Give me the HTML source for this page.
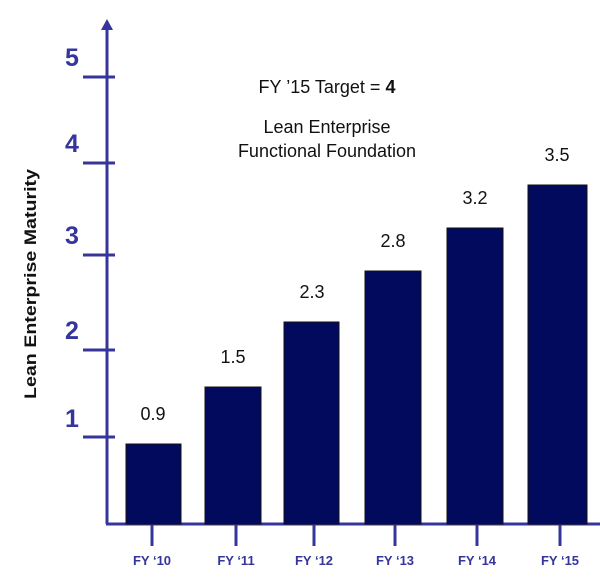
<!DOCTYPE html>
<html><head><style>
body{margin:0;background:#fff;}
</style></head><body>
<svg width="600" height="578" xmlns="http://www.w3.org/2000/svg" style="display:block">
<g stroke="#35359b" stroke-width="3" fill="none">
<line x1="107" y1="26" x2="107" y2="524"/>
<line x1="106" y1="524" x2="600" y2="524"/>
<line x1="83" y1="77" x2="115" y2="77"/>
<line x1="83" y1="163" x2="115" y2="163"/>
<line x1="83" y1="255" x2="115" y2="255"/>
<line x1="83" y1="350" x2="115" y2="350"/>
<line x1="83" y1="437" x2="115" y2="437"/>
<line x1="152" y1="524" x2="152" y2="546"/>
<line x1="236" y1="524" x2="236" y2="546"/>
<line x1="314" y1="524" x2="314" y2="546"/>
<line x1="395" y1="524" x2="395" y2="546"/>
<line x1="477" y1="524" x2="477" y2="546"/>
<line x1="560" y1="524" x2="560" y2="546"/>
</g>
<polygon points="107,19 101,30 113,30" fill="#35359b"/>
<g font-family="Liberation Sans, sans-serif" font-weight="bold" font-size="25" fill="#35359b" text-anchor="middle">
<text x="72" y="66">5</text>
<text x="72" y="152">4</text>
<text x="72" y="244">3</text>
<text x="72" y="339">2</text>
<text x="72" y="427">1</text>
</g>
<g fill="#020a5e" stroke="#111" stroke-width="1">
<rect x="126" y="444" width="55" height="80"/>
<rect x="205" y="387" width="56" height="137"/>
<rect x="284" y="322" width="55" height="202"/>
<rect x="365" y="271" width="56" height="253"/>
<rect x="447" y="228" width="56" height="296"/>
<rect x="528" y="185" width="59" height="339"/>
</g>
<g font-family="Liberation Sans, sans-serif" font-size="18" fill="#111" text-anchor="middle">
<text x="153" y="420">0.9</text>
<text x="233" y="363">1.5</text>
<text x="312" y="298">2.3</text>
<text x="393" y="247">2.8</text>
<text x="475" y="204">3.2</text>
<text x="557" y="161">3.5</text>
<text x="327" y="93">FY ’15 Target = <tspan font-weight="bold">4</tspan></text>
<text x="327" y="133">Lean Enterprise</text>
<text x="327" y="157">Functional Foundation</text>
</g>
<g font-family="Liberation Sans, sans-serif" font-weight="bold" font-size="13" fill="#35359b" text-anchor="middle">
<text x="152" y="565">FY ‘10</text>
<text x="236" y="565">FY ‘11</text>
<text x="314" y="565">FY ‘12</text>
<text x="395" y="565">FY ‘13</text>
<text x="477" y="565">FY ‘14</text>
<text x="560" y="565">FY ‘15</text>
</g>
<text transform="translate(36,284) rotate(-90)" font-family="Liberation Sans, sans-serif" font-weight="bold" font-size="17" fill="#111" text-anchor="middle" textLength="230" lengthAdjust="spacingAndGlyphs">Lean Enterprise Maturity</text>
</svg>
</body></html>
